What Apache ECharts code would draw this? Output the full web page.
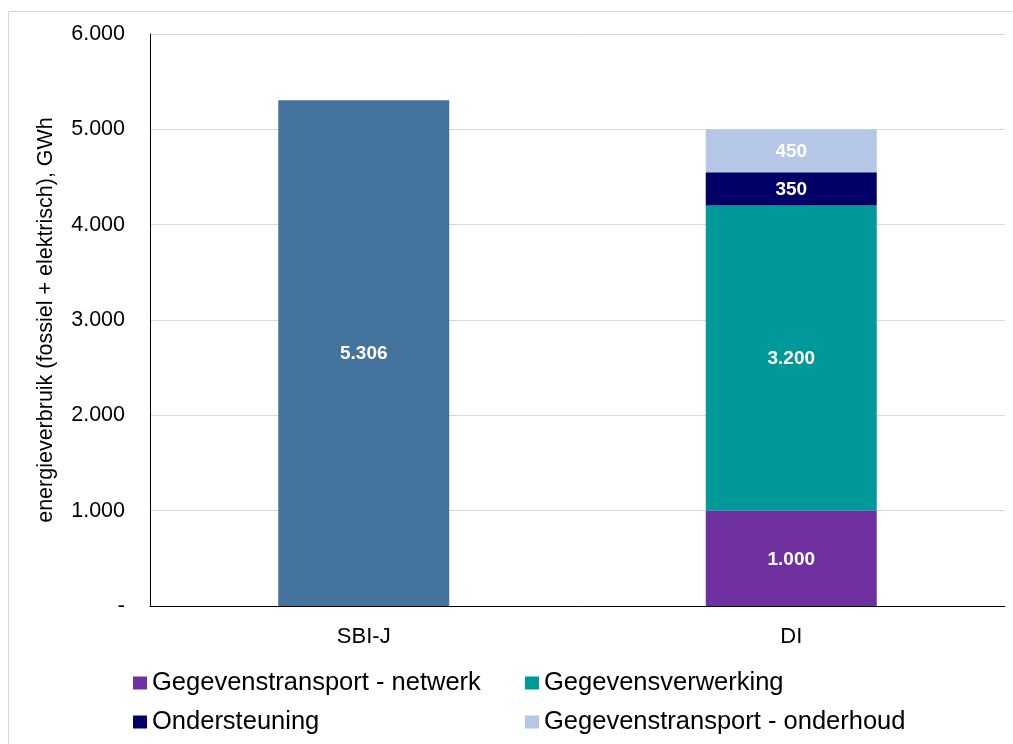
<!DOCTYPE html>
<html>
<head>
<meta charset="utf-8">
<script src="https://cdn.jsdelivr.net/npm/echarts@6/dist/echarts.min.js"></script>
<style>
  html, body { margin: 0; padding: 0; background: #fff; }
  #chart { width: 1013px; height: 744px; }
</style>
</head>
<body>
<div id="chart"></div>
<script>
  var categories = ['SBI-J', 'DI'];
  var sbiJ = [5306, '-'];
  var netwerk = ['-', 1000];
  var verwerking = ['-', 3200];
  var ondersteuning = ['-', 350];
  var onderhoud = ['-', 450];

  function dots(v) {
    return String(Math.round(v)).replace(/\B(?=(\d{3})+(?!\d))/g, '.');
  }

  var labelStyle = {
    show: true,
    position: 'inside',
    offset: [0, 1],
    color: '#fff',
    fontWeight: 'bold',
    fontSize: 19,
    fontFamily: 'Liberation Sans, Arial, sans-serif',
    formatter: function (p) { return dots(p.value); }
  };

  function bar(name, data, color) {
    return {
      name: name,
      type: 'bar',
      stack: 'total',
      barWidth: 171,
      data: data,
      itemStyle: { color: color },
      label: labelStyle,
      emphasis: { disabled: true }
    };
  }

  var legendText = { fontSize: 25.5, color: '#000', fontFamily: 'Liberation Sans, Arial, sans-serif' };

  var chart = echarts.init(document.getElementById('chart'));
  chart.setOption({
    animation: false,
    textStyle: { fontFamily: 'Liberation Sans, Arial, sans-serif' },
    graphic: [{
      type: 'rect',
      shape: { x: 8.5, y: 11.5, width: 1100, height: 800 },
      style: { fill: 'none', stroke: '#d9d9d9', lineWidth: 1 },
      silent: true
    }],
    grid: { left: 150, right: 8, top: 34, bottom: 138 },
    legend: [{
      orient: 'vertical',
      left: 133,
      top: 670,
      padding: 0,
      itemWidth: 14,
      itemHeight: 13,
      itemGap: 13,
      icon: 'rect',
      textStyle: legendText,
      data: ['Gegevenstransport - netwerk', 'Ondersteuning']
    }, {
      orient: 'vertical',
      left: 525,
      top: 670,
      padding: 0,
      itemWidth: 14,
      itemHeight: 13,
      itemGap: 13,
      icon: 'rect',
      textStyle: legendText,
      data: ['Gegevensverwerking', 'Gegevenstransport - onderhoud']
    }],
    xAxis: {
      type: 'category',
      data: categories,
      axisLine: { lineStyle: { color: '#000', width: 1 } },
      axisTick: { show: false },
      axisLabel: { fontSize: 22, color: '#000', margin: 20 }
    },
    yAxis: {
      type: 'value',
      min: 0,
      max: 6000,
      interval: 1000,
      name: 'energieverbruik (fossiel + elektrisch), GWh',
      nameLocation: 'middle',
      nameGap: 93,
      nameTextStyle: { fontSize: 21.5, color: '#000' },
      axisLine: { show: true, lineStyle: { color: '#000', width: 1 } },
      axisTick: { show: false },
      splitLine: { lineStyle: { color: '#d9d9d9', width: 1 } },
      axisLabel: {
        fontSize: 21.5,
        color: '#000',
        margin: 25,
        formatter: function (v) { return v === 0 ? '-' : dots(v); }
      }
    },
    series: [
      bar('SBI-J', sbiJ, '#44739e'),
      bar('Gegevenstransport - netwerk', netwerk, '#7030a0'),
      bar('Gegevensverwerking', verwerking, '#009999'),
      bar('Ondersteuning', ondersteuning, '#000066'),
      bar('Gegevenstransport - onderhoud', onderhoud, '#b4c7e7')
    ]
  });
</script>
</body>
</html>
